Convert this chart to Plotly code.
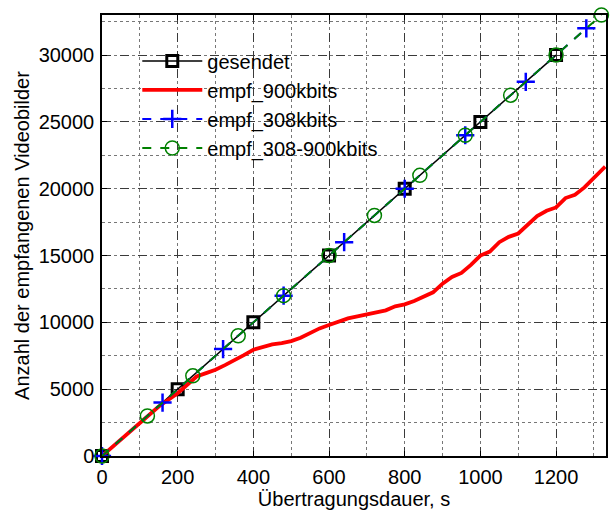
import plotly.graph_objects as go

# Sent frames: 25 frames per second, marked every 200 s
sent_t = [0, 200, 400, 600, 800, 1000, 1200]
sent_n = [0, 5000, 10000, 15000, 20000, 25000, 30000]

# Received at 308 kbit/s
rx308_t = [0, 160, 320, 480, 640, 800, 960, 1120, 1280]
rx308_n = [0, 4000, 8000, 12000, 16000, 20000, 24000, 28000, 32000]

# Received with 308-900 kbit/s switching
rxmix_t = [0, 120, 240, 360, 480, 600, 720, 840, 960, 1080, 1200, 1320]
rxmix_n = [0, 3000, 6000, 9000, 12000, 15000, 18000, 21000, 24000, 27000, 30000, 33000]

# Received at 900 kbit/s
rx900_t = [0, 50, 100, 150, 200, 225, 250, 275, 300, 325, 350, 375, 400, 425,
           450, 475, 500, 525, 550, 575, 600, 625, 650, 675, 700, 725, 750,
           775, 800, 825, 850, 875, 900, 925, 950, 975, 1000, 1025, 1050,
           1075, 1100, 1125, 1150, 1175, 1200, 1225, 1250, 1275, 1300, 1330]
rx900_n = [0, 1250, 2500, 3700, 4700, 5300, 5950, 6200, 6450, 6800, 7150,
           7550, 7950, 8150, 8350, 8450, 8600, 8850, 9200, 9550, 9800, 10050,
           10300, 10450, 10600, 10750, 10900, 11200, 11350, 11600, 11950,
           12250, 12900, 13400, 13700, 14300, 15000, 15300, 16000, 16400,
           16650, 17300, 17950, 18350, 18600, 19300, 19550, 20100, 20800,
           21650]

x_ticks = [0, 200, 400, 600, 800, 1000, 1200]
y_ticks = [0, 5000, 10000, 15000, 20000, 25000, 30000]
y_tick_text = ["0", "5000", "10000", "15000", "20000", "25000", "30000"]

FONT = "Liberation Sans, Arial, Helvetica, sans-serif"
FS = 20

fig = go.Figure()

fig.add_trace(go.Scatter(
    x=sent_t, y=sent_n, name="gesendet", legendgroup="a",
    mode="lines+markers",
    line=dict(color="black", width=1.5),
    marker=dict(symbol="square-open", size=11, color="black",
                line=dict(color="black", width=3)),
    cliponaxis=False,
))
fig.add_trace(go.Scatter(
    x=rx900_t, y=rx900_n, name="empf_900kbits", legendgroup="b",
    mode="lines",
    line=dict(color="#ff0000", width=3.8),
    cliponaxis=False,
))
fig.add_trace(go.Scatter(
    x=rx308_t, y=rx308_n, name="empf_308kbits", legendgroup="c",
    mode="lines+markers",
    line=dict(color="#0000ff", width=2, dash="dash"),
    marker=dict(symbol="cross-thin-open", size=13, color="#0000ff",
                line=dict(color="#0000ff", width=2.5)),
    cliponaxis=False,
))
fig.add_trace(go.Scatter(
    x=rxmix_t, y=rxmix_n, name="empf_308-900kbits", legendgroup="d",
    mode="lines+markers",
    line=dict(color="#008000", width=2, dash="dash"),
    marker=dict(symbol="circle-open", size=14, color="#008000",
                line=dict(color="#008000", width=1.5)),
    cliponaxis=False,
))

axis_common = dict(
    showline=True, linecolor="black", linewidth=1.5, mirror="ticks",
    ticks="inside", ticklen=5, tickwidth=1, tickcolor="black",
    showgrid=True, gridcolor="#3a3a3a", gridwidth=1, griddash="dash",
    zeroline=False,
    tickfont=dict(family=FONT, size=FS, color="black"),
    title_font=dict(family=FONT, size=FS, color="black"),
)

fig.update_xaxes(
    range=[0, 1332], tickvals=x_ticks,
    title_text="Übertragungsdauer, s", title_standoff=4,
    ticklabelstandoff=2,
    minor=dict(dtick=100, tick0=0, showgrid=True, gridcolor="#777777",
               griddash="dot", gridwidth=1, ticks=""),
    **axis_common,
)
fig.update_yaxes(
    range=[0, 33000], tickvals=y_ticks, ticktext=y_tick_text,
    title_text="Anzahl der empfangenen Videobilder", title_standoff=4,
    ticklabelstandoff=2,
    minor=dict(dtick=2500, tick0=0, showgrid=True, gridcolor="#777777",
               griddash="dot", gridwidth=1, ticks=""),
    **axis_common,
)

fig.update_layout(
    width=613, height=511,
    margin=dict(l=102, r=5, t=15, b=52),
    paper_bgcolor="white", plot_bgcolor="white",
    font=dict(family=FONT, size=FS, color="black"),
    legend=dict(
        x=0.07, y=0.94, xanchor="left", yanchor="top",
        bgcolor="rgba(0,0,0,0)", borderwidth=0,
        font=dict(family=FONT, size=FS, color="black"),
        itemwidth=60, tracegroupgap=0,
    ),
)

fig.write_html("out.html")
